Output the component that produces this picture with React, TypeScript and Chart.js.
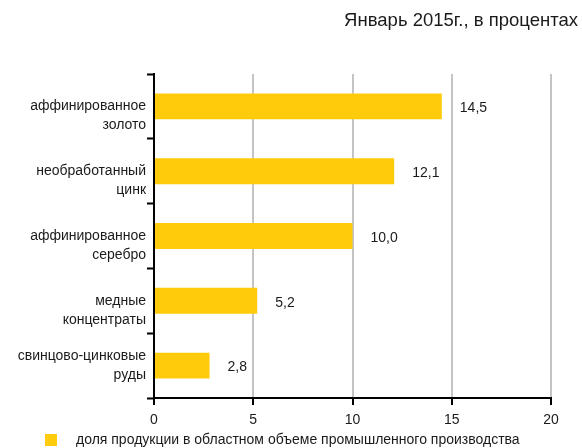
import React, { useEffect, useRef } from "react";
import { Chart, registerables } from "chart.js";

Chart.register(...registerables);

const categories: string[][] = [
  ["аффинированное", "золото"],
  ["необработанный", "цинк"],
  ["аффинированное", "серебро"],
  ["медные", "концентраты"],
  ["свинцово-цинковые", "руды"],
];
const values: number[] = [14.5, 12.1, 10.0, 5.2, 2.8];
const valueLabels: string[] = ["14,5", "12,1", "10,0", "5,2", "2,8"];
const xTicks: number[] = [0, 5, 10, 15, 20];
const titleText = "Январь 2015г., в процентах";
const legendText = "доля продукции в областном объеме промышленного производства";

const FONT = "'Liberation Sans', Arial, sans-serif";
const BAR_COLOR = "#FFCB0B";

const overlayPlugin = {
  id: "overlay",
  afterDraw(chart: any) {
    const ctx = chart.ctx as CanvasRenderingContext2D;
    const yScale = chart.scales.y;
    ctx.save();
    ctx.fillStyle = "#1a1a1a";
    // title
    ctx.font = `18.5px ${FONT}`;
    ctx.textAlign = "right";
    ctx.textBaseline = "middle";
    ctx.fillText(titleText, 578, 21);

    // category labels
    ctx.font = `14px ${FONT}`;
    ctx.textAlign = "right";
    ctx.textBaseline = "middle";
    const lh = 19;
    categories.forEach((lines, i) => {
      const c = yScale.getPixelForValue(i);
      const last = i === categories.length - 1;
      const start = last ? c - ((lines.length - 1) * lh) / 2 : c;
      lines.forEach((ln, j) => {
        ctx.fillText(ln, 146, start + j * lh);
      });
    });

    // value labels
    const meta = chart.getDatasetMeta(0);
    ctx.textAlign = "left";
    meta.data.forEach((bar: any, i: number) => {
      ctx.fillText(valueLabels[i], bar.x + 18, bar.y + 2);
    });

    // legend
    ctx.fillStyle = BAR_COLOR;
    ctx.fillRect(45, 434, 12, 12);
    ctx.fillStyle = "#1a1a1a";
    ctx.fillText(legendText, 76, 440);
    ctx.restore();
  },
};

export default function App() {
  const ref = useRef<HTMLCanvasElement>(null);
  useEffect(() => {
    if (!ref.current) return;
    const chart = new Chart(ref.current, {
      type: "bar",
      data: {
        labels: categories.map((c) => c.join(" ")),
        datasets: [
          {
            label: legendText,
            data: values,
            backgroundColor: BAR_COLOR,
            borderWidth: 0,
            categoryPercentage: 0.8,
            barPercentage: 0.5,
          },
        ],
      },
      options: {
        indexAxis: "y",
        animation: false,
        responsive: true,
        maintainAspectRatio: false,
        layout: { padding: { left: 0, right: 31, top: 74, bottom: 0 } },
        plugins: {
          legend: { display: false },
          title: { display: false },
          tooltip: { enabled: false },
        },
        scales: {
          x: {
            min: 0,
            max: 20,
            afterBuildTicks: (s: any) => {
              s.ticks = xTicks.map((v) => ({ value: v }));
            },
            afterFit: (s: any) => {
              s.height = 50;
            },
            ticks: {
              color: "#1a1a1a",
              font: { family: FONT, size: 14 },
              padding: 7,
            },
            grid: {
              color: "#c4c4c4",
              lineWidth: 2,
              tickColor: "#000",
              tickLength: 7,
              tickWidth: 2,
            },
            border: { color: "#000", width: 2 },
          },
          y: {
            afterFit: (s: any) => {
              s.width = 154;
            },
            ticks: { display: false },
            grid: {
              offset: true,
              drawOnChartArea: false,
              tickColor: "#000",
              tickLength: 7,
              tickWidth: 2,
            },
            border: { color: "#000", width: 2 },
          },
        },
      },
      plugins: [overlayPlugin],
    });
    return () => chart.destroy();
  }, []);
  return (
    <div style={{ position: "absolute", left: 0, top: 0, width: 582, height: 448 }}>
      <canvas ref={ref} />
    </div>
  );
}
